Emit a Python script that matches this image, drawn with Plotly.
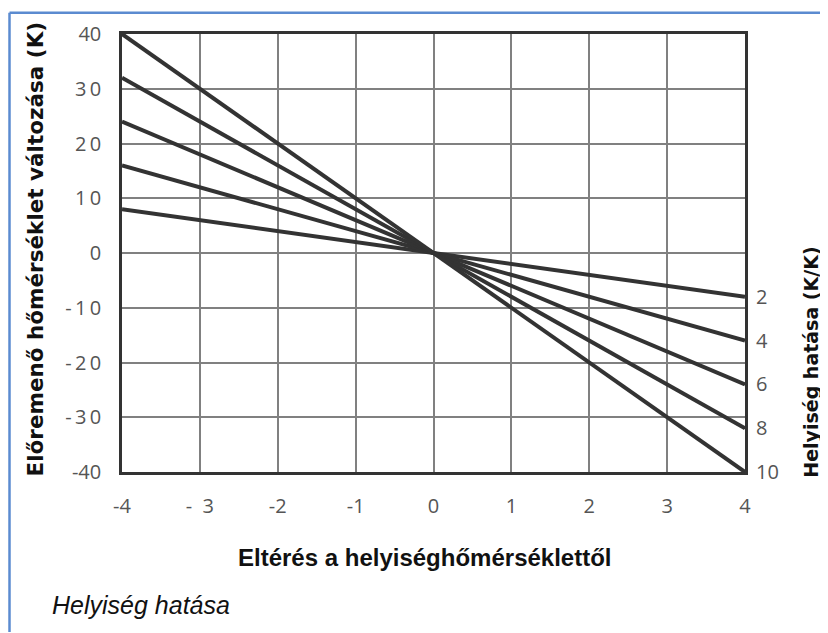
import plotly.graph_objects as go

# Data
x_ends = [-4, 4]
room_factors = [2, 4, 6, 8, 10]
series_y = {
    2: [8, -8],
    4: [16, -16],
    6: [24, -24],
    8: [32, -32],
    10: [40, -40],
}
x_ticks = [-4, -3, -2, -1, 0, 1, 2, 3, 4]
x_ticktext = ["-4", "-  3", "-2", "-1", "0", "1", "2", "3", "4"]
y_ticks = [40, 30, 20, 10, 0, -10, -20, -30, -40]
TS = "\u2009"
y_ticktext = ["40", "3" + TS + "0", "2" + TS + "0", "1" + TS + "0", "0",
              "-" + TS + "1" + TS + "0", "-" + TS + "2" + TS + "0",
              "-" + TS + "3" + TS + "0", "-40"]
right_vals = [-8, -16, -24, -32, -40]
right_text = ["2", "4", "6", "8", "10"]

# page is shown with an 8px body margin -> work in figure coords = page - 8
OFF = 8
W, H = 820, 625
L, R, T, B = 122 - OFF, 745 - OFF, 31 - OFF, 472 - OFF


def px_x(px_page):
    return (px_page - OFF - L) / (R - L)


def px_y(py_page):
    return (B - (py_page - OFF)) / (B - T)


fig = go.Figure()
for k in room_factors:
    fig.add_trace(go.Scatter(x=x_ends, y=series_y[k], mode="lines",
                             line=dict(color="#333333", width=4),
                             showlegend=False, hoverinfo="skip"))
# invisible trace for right axis
fig.add_trace(go.Scatter(x=[4], y=[0], yaxis="y2", mode="markers",
                         marker=dict(opacity=0), showlegend=False, hoverinfo="skip"))

tickfont = dict(family="Open Sans, DejaVu Sans, sans-serif", size=20, color="#555555")

fig.update_layout(
    width=W, height=H,
    margin=dict(l=L, r=W - R, t=T, b=H - B, pad=0),
    paper_bgcolor="white", plot_bgcolor="white",
    xaxis=dict(range=[-4, 4], tickvals=x_ticks, ticktext=x_ticktext,
               showgrid=True, gridcolor="#808080", gridwidth=1.5,
               showline=True, linecolor="#333333", linewidth=2.5, mirror=True,
               zeroline=False, ticks="", tickfont=tickfont, ticklabelstandoff=14),
    yaxis=dict(range=[-40, 40], tickvals=y_ticks, ticktext=y_ticktext,
               showgrid=True, gridcolor="#808080", gridwidth=1.5,
               showline=True, linecolor="#333333", linewidth=2.5, mirror=True,
               zeroline=False, ticks="", tickfont=tickfont, ticklabelstandoff=14),
    yaxis2=dict(range=[-40, 40], overlaying="y", side="right",
                tickvals=right_vals, ticktext=right_text,
                showgrid=False, zeroline=False, showline=False, ticks="",
                tickfont=tickfont, ticklabelstandoff=10),
)

annotations = [
    dict(text="<b>Előremenő hőmérséklet változása (K)</b>", textangle=-90,
         x=px_x(36), y=px_y(248), xref="paper", yref="paper", showarrow=False,
         font=dict(family="DejaVu Sans, Verdana, sans-serif", size=21.5, color="#111111"),
         xanchor="center", yanchor="middle"),
    dict(text="<b>Helyiség hatása (K/K)</b>", textangle=-90,
         x=px_x(811), y=px_y(362), xref="paper", yref="paper", showarrow=False,
         font=dict(family="DejaVu Sans, Verdana, sans-serif", size=19, color="#111111"),
         xanchor="center", yanchor="middle"),
    dict(text="<b>Eltérés a helyiséghőmérséklettől</b>",
         x=px_x(425), y=px_y(558), xref="paper", yref="paper", showarrow=False,
         font=dict(family="Liberation Sans, Arial, sans-serif", size=24, color="#111111"),
         xanchor="center", yanchor="middle"),
    dict(text="<i>Helyiség hatása</i>",
         x=px_x(50), y=px_y(606), xref="paper", yref="paper", showarrow=False,
         font=dict(family="Liberation Sans, Arial, sans-serif", size=25, color="#111111"),
         xanchor="left", yanchor="middle"),
]
fig.update_layout(annotations=annotations)

border = "#5b8bd0"
fig.update_layout(shapes=[
    dict(type="line", xref="paper", yref="paper",
         x0=px_x(OFF + 1.5), x1=px_x(OFF + W), y0=px_y(OFF + 1.5), y1=px_y(OFF + 1.5),
         line=dict(color=border, width=2.5)),
    dict(type="line", xref="paper", yref="paper",
         x0=px_x(OFF + 1.5), x1=px_x(OFF + 1.5), y0=px_y(OFF + 1.5), y1=px_y(OFF + H),
         line=dict(color=border, width=2.5)),
])

fig.write_html("out.html")
